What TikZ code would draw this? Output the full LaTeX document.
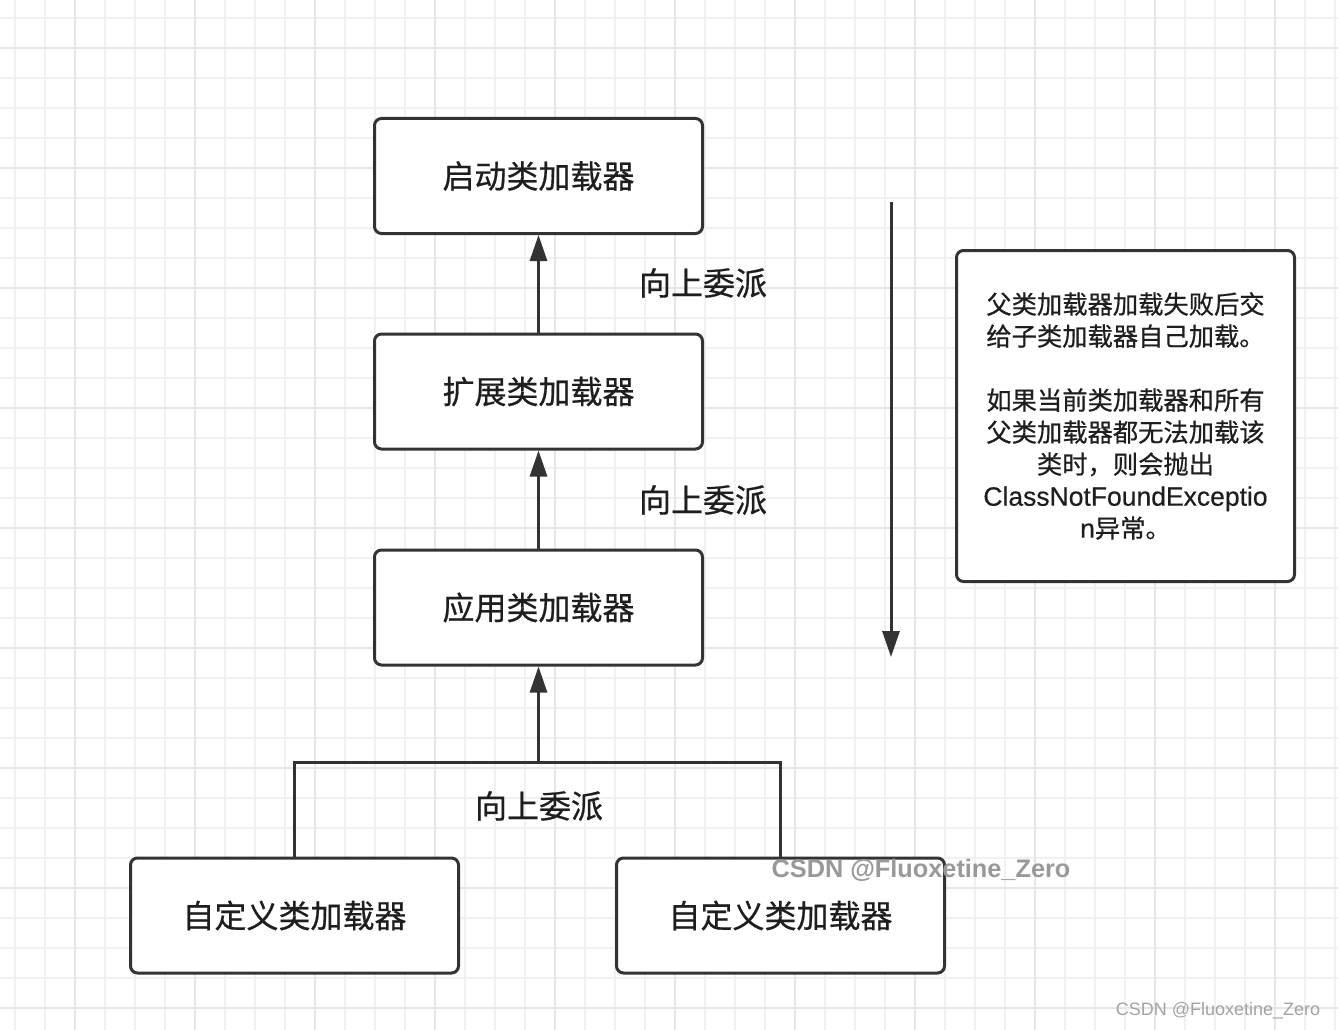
\documentclass[tikz,border=0pt]{standalone}
\usepackage{fontspec}
\setmainfont[FakeBold=0.6]{Noto Sans CJK SC}
\newfontfamily\wmfont{Liberation Sans}
\newfontfamily\latinfont[FakeBold=0.4]{Liberation Sans}
\usetikzlibrary{arrows.meta}
\definecolor{gridminor}{HTML}{F1F1F1}
\definecolor{gridmajor}{HTML}{E6E6E6}
\definecolor{edgecol}{HTML}{333333}
\definecolor{txtcol}{HTML}{1E1E1E}
\definecolor{wmcol}{HTML}{999999}
\tikzset{
  minorline/.style={draw=gridminor, line width=1.5pt},
  majorline/.style={draw=gridmajor, line width=1.5pt},
  box/.style={draw=edgecol, line width=3pt, fill=white, rounded corners=7pt,
    minimum width=328pt, minimum height=115pt, inner sep=0pt, text=txtcol,
    font=\fontsize{32}{36}\selectfont},
  note/.style={draw=edgecol, line width=3pt, fill=white, rounded corners=7pt,
    minimum width=338pt, minimum height=331pt, inner sep=0pt, text=txtcol,
    align=center, font=\fontsize{25.3}{32}\selectfont},
  lbl/.style={text=txtcol, inner sep=0pt, font=\fontsize{32}{36}\selectfont},
  wire/.style={draw=edgecol, line width=3pt},
  conn/.style={draw=edgecol, line width=3pt, -{Triangle[length=26pt,width=17pt]}},
}
\newcommand{\lat}[1]{{\latinfont\fontsize{26.5}{32}\selectfont #1}}
\begin{document}
\begin{tikzpicture}[x=1pt,y=-1pt]
\useasboundingbox (0,0) rectangle (1338,1030);
\fill[white] (0,0) rectangle (1338,1030);
% grid
\foreach \x in {15,45,...,1335} \draw[minorline] (\x,0) -- (\x,1030);
\foreach \y in {18,48,...,1020} \draw[minorline] (0,\y) -- (1338,\y);
\foreach \x in {75,195,...,1335} \draw[majorline] (\x,0) -- (\x,1030);
\foreach \y in {48,168,...,1020} \draw[majorline] (0,\y) -- (1338,\y);
% boxes
\node[box] (b1) at (538.5,176) {启动类加载器};
\node[box] (b2) at (538.5,391.5) {扩展类加载器};
\node[box] (b3) at (538.5,607.5) {应用类加载器};
\node[box] (b4) at (294.5,915.5) {自定义类加载器};
\node[box] (b5) at (780.5,915.5) {自定义类加载器};
% connectors
\draw[conn] (b2.north) -- (b1.south);
\draw[conn] (b3.north) -- (b2.south);
\coordinate (j) at (538.5,762);
\draw[wire] (b4.north) |- (j) -| (b5.north);
\draw[conn] (j) -- (b3.south);
% labels
\node[lbl] (l1) at (703,283) {向上委派};
\node[lbl] (l2) at (703,500) {向上委派};
\node[lbl] (l3) at (539,806) {向上委派};
% right arrow
\coordinate (va) at (891,202);
\coordinate (vb) at (891,657);
\draw[conn] (va) -- (vb);
% note
\node[note] (n) at (1125.5,416) {父类加载器加载失败后交\\给子类加载器自己加载。\\[32pt]如果当前类加载器和所有\\父类加载器都无法加载该\\类时，则会抛出\\\lat{ClassNotFoundExceptio}\\\lat{n}异常。};
% watermarks
\node[text=wmcol, inner sep=0pt, font=\wmfont\bfseries\fontsize{25.3}{30}\selectfont] (w1) at (921,870) {CSDN @Fluoxetine\_Zero};
\node[text=wmcol!90, inner sep=0pt, font=\wmfont\fontsize{18}{22}\selectfont] (w2) at (1218,1011) {CSDN @Fluoxetine\_Zero};
\end{tikzpicture}
\end{document}
